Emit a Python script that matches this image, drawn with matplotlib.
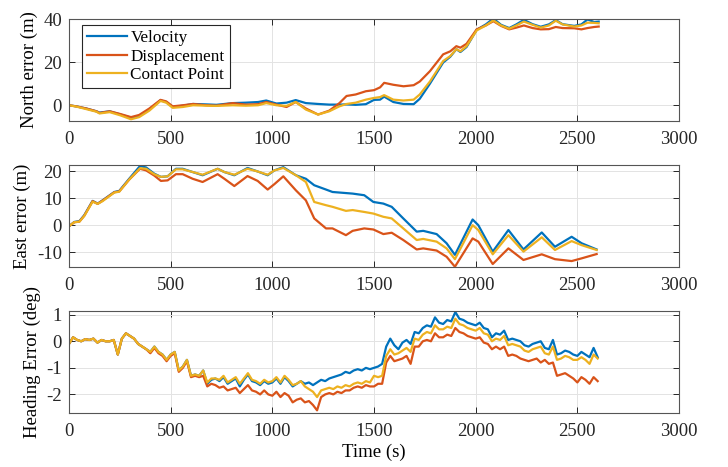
import matplotlib
matplotlib.use("Agg")
import matplotlib.pyplot as plt
import numpy as np

# ---- data ----
labels = ["Velocity", "Displacement", "Contact Point"]
colors = ["#0072BD", "#D95319", "#EDB120"]

t_north = [0, 35, 85, 135, 150, 200, 250, 305, 345, 395, 450, 478, 510, 560, 610, 675, 725,
           805, 870, 930, 970, 1020, 1070, 1115, 1165, 1225, 1280, 1330, 1365, 1410, 1460,
           1500, 1530, 1550, 1595, 1645, 1695, 1725, 1775, 1840, 1875, 1905, 1925, 1955,
           2005, 2050, 2087, 2125, 2165, 2200, 2237, 2280, 2320, 2360, 2394, 2427, 2485,
           2520, 2550, 2583, 2605]
north_vel = [0, -0.5, -1.5, -2.8, -3.4, -2.8, -4.2, -5.8, -5.0, -2.0, 2.3, 1.5, -0.8, -0.2,
             0.6, 0.4, 0.2, 1.0, 1.2, 1.5, 2.2, 0.8, 1.2, 2.4, 1.0, 0.6, 0.3, 0.3, 0.4, 0.2,
             0.5, 2.5, 2.6, 4.0, 1.5, 0.6, 0.5, 3.0, 10.0, 19.8, 22.5, 26.0, 24.7, 27.0,
             35.0, 37.5, 40.2, 37.3, 35.8, 37.5, 39.6, 37.6, 36.4, 37.5, 39.5, 37.6, 36.8,
             37.5, 39.8, 38.6, 38.8]
north_disp = [0, -0.5, -1.5, -2.8, -3.6, -2.8, -4.0, -5.5, -4.5, -1.5, 2.5, 1.8, -0.5, 0.0,
              0.6, 0.0, -0.2, 1.0, 0.3, 0.5, 1.5, 0.3, -0.8, 1.5, -1.5, -4.3, -2.5, 1.0, 4.3,
              5.0, 6.5, 7.0, 8.3, 10.4, 9.5, 8.8, 9.3, 11.0, 15.8, 23.6, 25.0, 27.4, 26.7,
              28.5, 35.2, 37.0, 39.0, 36.8, 35.2, 36.0, 37.0, 35.8, 35.2, 35.3, 36.3, 35.8,
              35.7, 35.2, 35.8, 36.3, 36.5]
north_cp = [0, -0.6, -1.8, -3.0, -3.8, -3.2, -4.6, -6.5, -5.5, -2.5, 2.0, 1.2, -1.2, -0.8,
            0.0, -0.2, -0.3, 0.0, -0.2, 0.0, 1.0, 0.0, -0.3, 1.5, -2.0, -4.3, -2.8, -0.5,
            0.6, 1.2, 2.6, 3.4, 3.8, 4.7, 2.6, 2.2, 2.6, 5.0, 11.0, 20.5, 22.8, 26.0, 25.0,
            27.4, 34.7, 37.0, 39.4, 37.0, 35.5, 37.0, 38.8, 37.3, 36.0, 37.0, 39.2, 37.5,
            36.5, 37.0, 38.3, 38.2, 38.0]

t_east = [0, 26, 51, 75, 116, 141, 165, 223, 247, 296, 349, 379, 419, 452, 485, 526, 559,
          608, 657, 731, 764, 813, 878, 928, 977, 1010, 1054, 1116, 1165, 1206, 1264, 1296,
          1362, 1395, 1452, 1497, 1546, 1587, 1644, 1710, 1742, 1808, 1857, 1898, 1985,
          2013, 2084, 2161, 2235, 2325, 2390, 2472, 2521, 2595]
east_vel = [-0.3, 1.3, 1.6, 3.8, 9.1, 8.1, 9.3, 12.4, 12.8, 17.3, 22.0, 21.5, 19.2, 18.0,
            18.2, 21.0, 21.0, 19.8, 18.6, 21.0, 19.8, 18.6, 21.3, 20.0, 18.6, 20.4, 21.6,
            18.6, 17.3, 14.9, 13.3, 12.4, 12.0, 11.8, 11.2, 8.7, 8.1, 6.9, 2.6, -2.3, -2.0,
            -3.2, -6.6, -10.9, 2.2, 0.1, -9.7, -1.7, -8.9, -2.6, -7.9, -4.2, -6.6, -8.9]
east_disp = [-0.3, 1.2, 1.4, 3.6, 9.0, 8.0, 9.2, 12.3, 12.6, 17.0, 21.0, 20.4, 18.5, 16.5,
             16.7, 19.0, 19.0, 17.3, 16.1, 19.0, 17.3, 14.6, 18.3, 16.5, 13.3, 15.3, 18.2,
             13.0, 9.3, 2.6, -1.1, -1.1, -3.6, -2.0, -1.1, -1.5, -3.2, -2.7, -5.4, -8.9,
             -8.5, -9.3, -11.6, -15.3, -4.8, -6.0, -14.3, -8.5, -12.8, -10.7, -12.5, -13.2,
             -12.2, -10.6]
east_cp = [-0.3, 1.2, 1.4, 3.5, 8.8, 8.0, 9.0, 12.2, 12.5, 17.0, 21.2, 21.0, 19.0, 18.0,
           18.2, 20.8, 20.8, 19.8, 18.8, 21.0, 19.8, 18.8, 21.0, 20.0, 18.8, 20.4, 21.3,
           18.6, 16.1, 8.7, 7.5, 6.9, 5.4, 5.7, 5.0, 4.4, 3.2, 2.6, -1.1, -5.4, -5.0, -6.0,
           -8.5, -12.5, 0.1, -1.7, -10.7, -3.6, -9.7, -4.4, -9.1, -5.8, -7.3, -9.1]

t_head = list(range(0, 2601, 20))
head_vel = [-0.1, 0.15, 0.05, 0.0, 0.08, 0.05, 0.1, -0.05, 0.05, 0.0, 0.0, 0.05, -0.5,
            0.1, 0.3, 0.2, 0.1, -0.1, -0.2, -0.3, -0.4, -0.2, -0.4, -0.5, -0.7, -0.5,
            -0.4, -1.1, -0.95, -0.7, -1.3, -1.25, -1.3, -1.1, -1.6, -1.45, -1.4, -1.5,
            -1.35, -1.6, -1.5, -1.4, -1.7, -1.45, -1.25, -1.5, -1.55, -1.65, -1.5, -1.6,
            -1.55, -1.4, -1.6, -1.35, -1.5, -1.7, -1.6, -1.5, -1.6, -1.55, -1.65, -1.55,
            -1.45, -1.5, -1.4, -1.35, -1.3, -1.25, -1.15, -1.2, -1.1, -1.05, -1.1, -1.0,
            -1.05, -1.0, -0.95, -0.85, -0.2, 0.1, -0.15, -0.3, -0.05, 0.05, -0.1, 0.35,
            0.3, 0.5, 0.6, 0.55, 0.9, 0.7, 0.65, 0.8, 0.75, 1.1, 0.85, 0.8, 0.7, 0.65,
            0.6, 0.7, 0.5, 0.45, 0.15, 0.3, 0.25, 0.4, 0.05, 0.1, 0.05, 0.0, -0.15, -0.2,
            -0.1, -0.05, 0.0, -0.25, -0.3, 0.05, -0.5, -0.45, -0.35, -0.4, -0.5, -0.55,
            -0.4, -0.5, -0.6, -0.25, -0.6]
head_disp = [-0.1, 0.15, 0.05, 0.0, 0.08, 0.05, 0.1, -0.05, 0.05, 0.0, 0.0, 0.05, -0.5,
             0.1, 0.3, 0.2, 0.1, -0.1, -0.2, -0.3, -0.45, -0.25, -0.45, -0.55, -0.75,
             -0.55, -0.45, -1.15, -1.0, -0.75, -1.35, -1.3, -1.35, -1.3, -1.7, -1.6,
             -1.65, -1.75, -1.7, -1.85, -1.8, -1.75, -1.95, -1.8, -1.65, -1.85, -1.9,
             -2.0, -1.85, -2.0, -2.05, -1.9, -2.1, -1.95, -2.05, -2.3, -2.2, -2.15, -2.3,
             -2.25, -2.4, -2.6, -2.1, -2.0, -1.95, -2.0, -1.9, -1.95, -1.85, -1.85, -1.75,
             -1.7, -1.75, -1.65, -1.7, -1.7, -1.6, -1.6, -0.8, -0.55, -0.75, -0.7, -0.65,
             -0.55, -0.85, -0.2, -0.2, 0.0, 0.05, 0.0, 0.3, 0.15, 0.15, 0.25, 0.2, 0.5,
             0.35, 0.3, 0.2, 0.15, 0.1, 0.15, -0.05, -0.1, -0.3, -0.2, -0.3, -0.2, -0.55,
             -0.5, -0.55, -0.65, -0.7, -0.75, -0.7, -0.65, -0.8, -0.7, -0.85, -0.8, -1.3,
             -1.25, -1.2, -1.3, -1.4, -1.55, -1.35, -1.45, -1.6, -1.35, -1.5]
head_cp = [-0.1, 0.15, 0.05, 0.0, 0.08, 0.05, 0.1, -0.05, 0.05, 0.0, 0.0, 0.05, -0.5,
           0.1, 0.3, 0.2, 0.1, -0.1, -0.2, -0.3, -0.4, -0.2, -0.4, -0.5, -0.7, -0.5,
           -0.4, -1.1, -0.95, -0.7, -1.3, -1.25, -1.3, -1.1, -1.55, -1.4, -1.4, -1.45,
           -1.3, -1.55, -1.45, -1.35, -1.6, -1.4, -1.2, -1.45, -1.5, -1.6, -1.45, -1.55,
           -1.5, -1.35, -1.55, -1.3, -1.45, -1.65, -1.6, -1.5, -1.7, -1.8, -1.9, -2.1,
           -1.85, -1.8, -1.75, -1.8, -1.7, -1.75, -1.65, -1.7, -1.6, -1.55, -1.6, -1.5,
           -1.55, -1.3, -1.35, -1.3, -0.55, -0.3, -0.5, -0.45, -0.35, -0.25, -0.4, 0.1,
           0.05, 0.25, 0.35, 0.3, 0.6, 0.45, 0.45, 0.55, 0.5, 0.85, 0.65, 0.6, 0.5, 0.45,
           0.4, 0.5, 0.3, 0.25, 0.0, 0.1, 0.05, 0.2, -0.15, -0.1, -0.15, -0.2, -0.35,
           -0.4, -0.3, -0.25, -0.2, -0.45, -0.5, -0.2, -0.7, -0.65, -0.55, -0.6, -0.7,
           -0.7, -0.6, -0.7, -0.85, -0.5, -0.65]

plt.rcParams["font.family"] = ["Liberation Serif", "DejaVu Serif"]
plt.rcParams["axes.unicode_minus"] = False
fs = 13.5

fig = plt.figure(figsize=(7.28, 4.67), dpi=100)
x0, w, h = 69 / 728, 610 / 728, 102 / 467
bottoms = [1 - 121 / 467, 1 - 267 / 467, 1 - 413 / 467]
axes = [fig.add_axes([x0, b, w, h]) for b in bottoms]

panels = [
    (t_north, [north_vel, north_disp, north_cp], (-7.3, 40), [0, 20, 40], "North error (m)"),
    (t_east, [east_vel, east_disp, east_cp], (-15.4, 22.4), [-10, 0, 10, 20], "East error (m)"),
    (t_head, [head_vel, head_disp, head_cp], (-2.7, 1.14), [-2, -1, 0, 1], "Heading Error (deg)"),
]

for ax, (t, series, ylim, yticks, ylabel) in zip(axes, panels):
    for y, c, lab in zip(series, colors, labels):
        ax.plot(t, y, color=c, lw=1.6, label=lab)
    ax.set_xlim(0, 3000)
    ax.set_ylim(*ylim)
    ax.set_xticks(np.arange(0, 3001, 500))
    ax.set_yticks(yticks)
    ax.grid(True, color="#e3e3e3", lw=0.7)
    ax.set_axisbelow(True)
    ax.tick_params(direction="in", top=True, right=True, length=4, width=0.7,
                   labelsize=fs, colors="#262626")
    ax.tick_params(axis="x", pad=7)
    ax.tick_params(axis="y", pad=5)
    for s in ax.spines.values():
        s.set_color("#555555")
        s.set_linewidth(0.8)
    ax.set_ylabel(ylabel, fontsize=fs, labelpad=4)

axes[2].set_xlabel("Time (s)", fontsize=fs, labelpad=3)

leg = axes[0].legend(loc="upper left", bbox_to_anchor=(0.021, 0.94), borderaxespad=0,
                     fontsize=12.3, frameon=True, fancybox=False, framealpha=1,
                     edgecolor="#262626", labelspacing=0.15, handlelength=2.35,
                     handletextpad=0.2, borderpad=0.3)
leg.get_frame().set_linewidth(0.8)

fig.savefig("out.png", dpi=100)
